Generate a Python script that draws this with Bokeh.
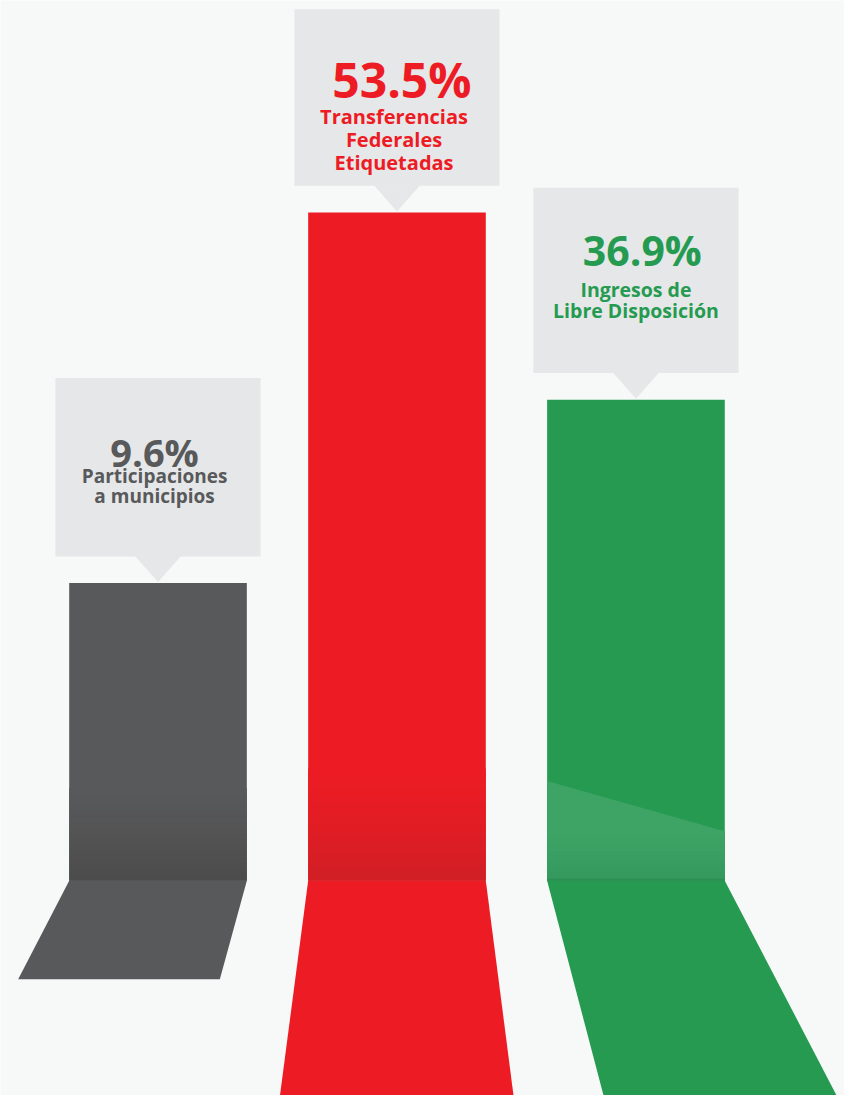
from bokeh.plotting import figure
from bokeh.models import Range1d
from bokeh.core.properties import value
from bokeh.embed import file_html
from bokeh.resources import INLINE

# ---------------- data ----------------
categories = ["Participaciones a municipios",
              "Transferencias Federales Etiquetadas",
              "Ingresos de Libre Disposición"]
shares = [9.6, 53.5, 36.9]
label_lines = [["Participaciones", "a municipios"],
               ["Transferencias", "Federales", "Etiquetadas"],
               ["Ingresos de", "Libre Disposición"]]
bar_heights = [302, 678, 488]          # visual heights (not to scale in the original)

# ---------------- styles / layout ----------------
BG = "#f7f8f8"
BOX = "#e6e7e8"
colors = ["#58595b", "#ed1c24", "#259a50"]
dark_bottom = ["#4d4b4c", "#d11e25", None]
text_colors = ["#58595b", "#ed1c24", "#259b51"]

X0, STEP, BAR_W, BOX_W = 160.5, 243.5, 181, 209
GAP = 27                                # box bottom above bar top
box_h = [181, 179, 188]
ptr_half = 23.5
# floor: (left offset, right offset, bottom y)
floor_geom = [(-52, -27.5, -100), (-29, 28.5, -220), (58, 115, -220)]
pct_size = ["38px", "48px", "41px"]
lab_size = ["19px", "20px", "19.5px"]
pct_dx = [-3.5, 5, 6.5]
lab_dx = [-3.5, -3, 0]
pct_dy = [75, 71, 63]       # baseline below box top
lab_dy = [99, 109, 103]
lab_gap = [21, 23, 22]

W, H = 844, 1095
p = figure(width=W, height=H, x_range=Range1d(0, 860), y_range=Range1d(-218, 893),
           output_backend="svg", toolbar_location=None, min_border=0)
p.axis.visible = False
p.grid.visible = False
p.outline_line_color = None
p.background_fill_color = BG
p.border_fill_color = BG


def hex2rgb(h):
    h = h.lstrip("#")
    return tuple(int(h[i:i + 2], 16) for i in (0, 2, 4))


def mix(c1, c2, t):
    a, b = hex2rgb(c1), hex2rgb(c2)
    return "#%02x%02x%02x" % tuple(round(a[k] + (b[k] - a[k]) * t) for k in range(3))


FONT = value("Open Sans")

for i, (share, lines, h) in enumerate(zip(shares, label_lines, bar_heights)):
    cx = X0 + i * STEP
    left, right = cx - BAR_W / 2, cx + BAR_W / 2
    col = colors[i]

    # floor
    dl, dr, fb = floor_geom[i]
    p.patch([left, right, right + dr, left + dl], [0, 0, fb, fb],
            fill_color=col, line_color=None)

    # bar
    p.quad(left=left, right=right, bottom=0, top=h, fill_color=col, line_color=None)

    if dark_bottom[i] is not None:
        g_top = 93 if i == 0 else 113
        n = 16
        for k in range(n):
            y1 = g_top * (1 - k / n)
            y0 = g_top * (1 - (k + 1) / n)
            t = ((k + 0.5) / n) ** 1.3
            p.quad(left=left, right=right, bottom=y0, top=y1 + 0.8,
                   fill_color=mix(col, dark_bottom[i], t), line_color=None)
    else:
        # lighter slanted reflection on the green bar
        p.patch([left, right, right, left], [101, 50, 0, 0],
                fill_color="#3da466", line_color=None)
        n = 12
        for k in range(n):
            y1 = 50 * (1 - k / n)
            y0 = 50 * (1 - (k + 1) / n)
            t = (k + 0.5) / n
            p.quad(left=left, right=right, bottom=y0, top=y1 + 0.8,
                   fill_color=mix("#3da466", "#35995d", t), line_color=None)
        p.quad(left=left, right=right, bottom=0, top=2,
               fill_color="#2b8f51", line_color=None)

    # callout box + pointer
    bb = h + GAP
    bt = bb + box_h[i]
    p.quad(left=cx - BOX_W / 2, right=cx + BOX_W / 2, bottom=bb, top=bt,
           fill_color=BOX, line_color=None)
    p.patch([cx - ptr_half, cx + ptr_half, cx], [bb + 0.5, bb + 0.5, h + 1],
            fill_color=BOX, line_color=None)

    # texts
    p.text(x=[cx + pct_dx[i]], y=[bt - pct_dy[i]], text=[f"{share:.1f}%"],
           text_font=FONT, text_font_style="bold", text_font_size=pct_size[i],
           text_color=text_colors[i], text_align="center", text_baseline="alphabetic")
    for j, line in enumerate(lines):
        p.text(x=[cx + lab_dx[i]], y=[bt - lab_dy[i] - j * lab_gap[i]], text=[line],
               text_font=FONT, text_font_style="bold", text_font_size=lab_size[i],
               text_color=text_colors[i], text_align="center", text_baseline="alphabetic")

html = file_html(p, INLINE, title="Ingresos")
html = html.replace("<body>", f'<body style="background:{BG};">', 1)
open("out.html", "w").write(html)
